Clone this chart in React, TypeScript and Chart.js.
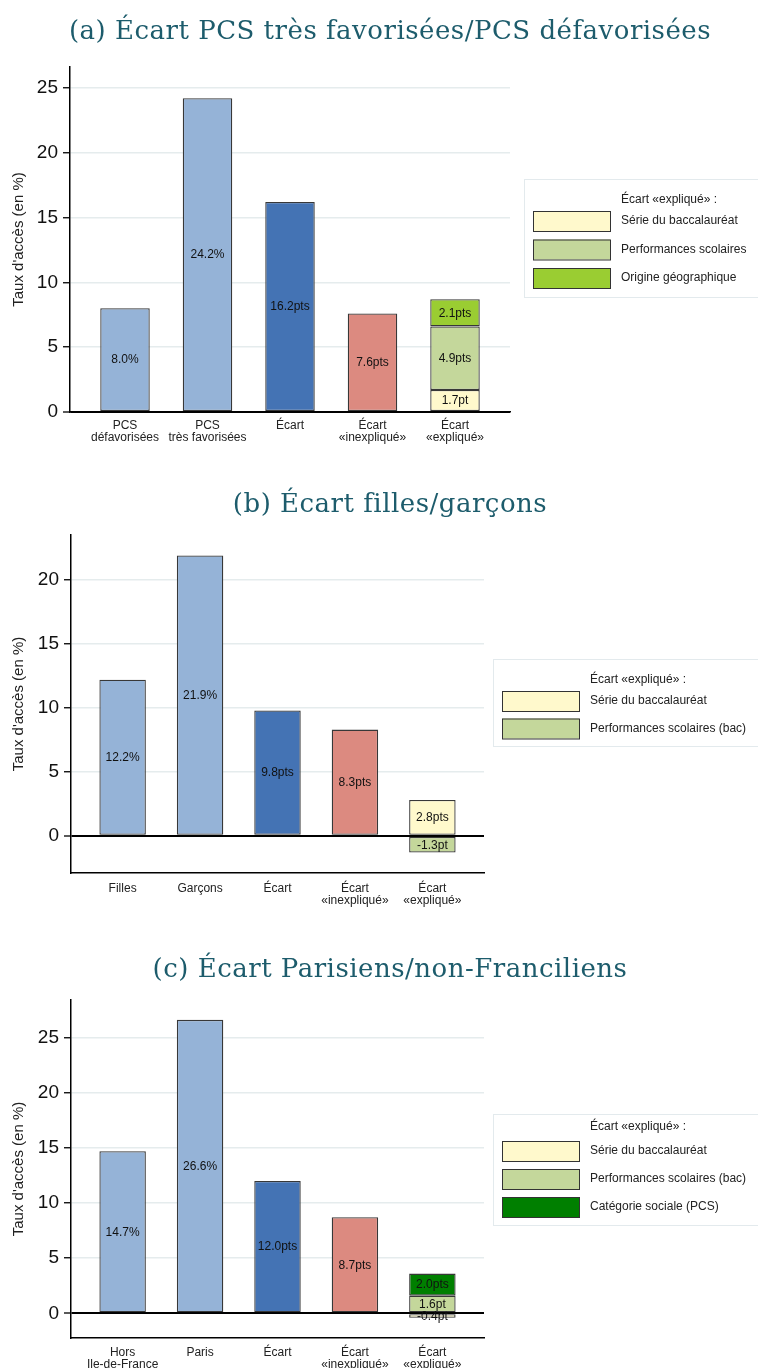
import React, { useEffect, useRef } from 'react';
import { Chart, registerables } from 'chart.js';
Chart.register(...registerables);

const SANS = '"Liberation Sans", Arial, Helvetica, sans-serif';
const SERIF = '"DejaVu Serif", Georgia, serif';
const TITLE_COLOR = '#1d5c6c';

const LIGHT_BLUE = '#95b3d7';
const DARK_BLUE = '#4473b4';
const SALMON = '#dc8a80';
const CREAM = '#fff9cc';
const LIGHT_GREEN = '#c4d79b';
const LIME = '#9acd32';
const DARK_GREEN = '#007f00';

const Y_TITLE = "Taux d'accès (en %)";
const LEGEND_TITLE = 'Écart «expliqué» :';
const MAIN_UNITS = ['%', '%', 'pts', 'pts'];
const MAIN_COLORS = [LIGHT_BLUE, LIGHT_BLUE, DARK_BLUE, SALMON];

// ---------- Panel (a)
const titleA = '(a) Écart PCS très favorisées/PCS défavorisées';
const catsA = [['PCS', 'défavorisées'], ['PCS', 'très favorisées'], 'Écart', ['Écart', '«inexpliqué»'], ['Écart', '«expliqué»']];
const mainA = [8.0, 24.2, 16.2, 7.6];
const segNamesA = ['Série du baccalauréat', 'Performances scolaires', 'Origine géographique'];
const segValuesA = [1.7, 4.9, 2.1];
const segColorsA = [CREAM, LIGHT_GREEN, LIME];
const yTicksA = [0, 5, 10, 15, 20, 25];

// ---------- Panel (b)
const titleB = '(b) Écart filles/garçons';
const catsB = ['Filles', 'Garçons', 'Écart', ['Écart', '«inexpliqué»'], ['Écart', '«expliqué»']];
const mainB = [12.2, 21.9, 9.8, 8.3];
const segNamesB = ['Série du baccalauréat', 'Performances scolaires (bac)'];
const segValuesB = [2.8, -1.3];
const segColorsB = [CREAM, LIGHT_GREEN];
const yTicksB = [0, 5, 10, 15, 20];

// ---------- Panel (c)
const titleC = '(c) Écart Parisiens/non-Franciliens';
const catsC = [['Hors', 'Ile-de-France'], 'Paris', 'Écart', ['Écart', '«inexpliqué»'], ['Écart', '«expliqué»']];
const mainC = [14.7, 26.6, 12.0, 8.7];
const segNamesC = ['Série du baccalauréat', 'Performances scolaires (bac)', 'Catégorie sociale (PCS)'];
const segValuesC = [-0.4, 1.6, 2.0];
const segColorsC = [CREAM, LIGHT_GREEN, DARK_GREEN];
const yTicksC = [0, 5, 10, 15, 20, 25];

const W = 758;

const panels = [
  {
    key: 'a', top: 0, height: 455, title: titleA, titleY: 38.5, cats: catsA, main: mainA,
    segNames: segNamesA, segValues: segValuesA, segColors: segColorsA, yTicks: yTicksA,
    yMin: 0, yMax: 26.6, plotLeft: 70, plotRight: 510, plotTop: 67, xAxisH: 43, xPad: 8,
    legend: { left: 524, top: 179, height: 118, titleOff: 21, row1Off: 42, rowGap: 28.5 },
  },
  {
    key: 'b', top: 455, height: 465, title: titleB, titleY: 56.7, cats: catsB, main: mainB,
    segNames: segNamesB, segValues: segValuesB, segColors: segColorsB, yTicks: yTicksB,
    yMin: -2.9, yMax: 23.5, plotLeft: 71, plotRight: 484, plotTop: 80, xAxisH: 47, xPad: 10,
    legend: { left: 493, top: 204, height: 87, titleOff: 21, row1Off: 42, rowGap: 27.5 },
  },
  {
    key: 'c', top: 920, height: 448, title: titleC, titleY: 57.3, cats: catsC, main: mainC,
    segNames: segNamesC, segValues: segValuesC, segColors: segColorsC, yTicks: yTicksC,
    yMin: -2.24, yMax: 28.4, plotLeft: 71, plotRight: 484, plotTop: 80, xAxisH: 30, xPad: 9,
    legend: { left: 493, top: 194, height: 111, titleOff: 13, row1Off: 37, rowGap: 28 },
  },
];

const panelTitle = {
  id: 'panelTitle',
  afterDraw(chart: any, _args: any, opts: any) {
    const ctx = chart.ctx;
    ctx.save();
    ctx.font = '26px ' + SERIF;
    try {
      (ctx as any).letterSpacing = '0.5px';
    } catch (e) {}
    ctx.fillStyle = TITLE_COLOR;
    ctx.textAlign = 'center';
    ctx.textBaseline = 'alphabetic';
    ctx.fillText(opts.text, 390, opts.y);
    ctx.restore();
  },
};

const valueLabels = {
  id: 'valueLabels',
  afterDatasetsDraw(chart: any) {
    const ctx = chart.ctx;
    ctx.save();
    ctx.font = '12px ' + SANS;
    ctx.fillStyle = '#111';
    ctx.textAlign = 'center';
    ctx.textBaseline = 'middle';
    chart.data.datasets.forEach((ds: any, i: number) => {
      const meta = chart.getDatasetMeta(i);
      meta.data.forEach((el: any, j: number) => {
        const txt = ds.valueText && ds.valueText[j];
        if (!txt) return;
        const p = el.getProps(['x', 'y', 'base'], true);
        ctx.fillText(txt, p.x, (p.y + p.base) / 2 + 0.5);
      });
    });
    ctx.restore();
  },
};

const segLegend = {
  id: 'segLegend',
  afterDraw(chart: any, _args: any, opts: any) {
    const ctx = chart.ctx;
    const { left, top, height, titleOff, row1Off, rowGap } = opts;
    ctx.save();
    ctx.fillStyle = '#fff';
    ctx.fillRect(left, top, chart.width - left + 10, height);
    ctx.strokeStyle = '#e3eaed';
    ctx.lineWidth = 1;
    ctx.strokeRect(left + 0.5, top + 0.5, chart.width - left + 10, height);
    ctx.font = '12px ' + SANS;
    ctx.fillStyle = '#222';
    ctx.textAlign = 'left';
    ctx.textBaseline = 'middle';
    ctx.fillText(LEGEND_TITLE, left + 97, top + titleOff);
    chart.data.datasets.forEach((ds: any, i: number) => {
      if (i === 0) return;
      const y = top + row1Off + (i - 1) * rowGap;
      ctx.fillStyle = ds.backgroundColor;
      ctx.fillRect(left + 9, y - 10, 77, 20);
      ctx.strokeStyle = '#333';
      ctx.lineWidth = 1;
      ctx.strokeRect(left + 9.5, y - 9.5, 77, 20);
      ctx.fillStyle = '#222';
      ctx.fillText(ds.label, left + 97, y);
    });
    ctx.restore();
  },
};

function fmtSeg(v: number) {
  return v.toFixed(1) + (Math.abs(v) < 2 ? 'pt' : 'pts');
}

function buildConfig(p: any): any {
  const datasets: any[] = [
    {
      label: 'main',
      data: p.main.map((v: number, i: number) => ({ x: i + 1, y: v })),
      backgroundColor: MAIN_COLORS,
      valueText: p.main.map((v: number, i: number) => v.toFixed(1) + MAIN_UNITS[i]),
    },
  ];
  p.segValues.forEach((v: number, i: number) => {
    datasets.push({
      label: p.segNames[i],
      data: [{ x: 5, y: v }],
      backgroundColor: p.segColors[i],
      valueText: [fmtSeg(v)],
    });
  });
  datasets.forEach((d) => {
    d.borderColor = '#383838';
    d.borderWidth = 1.3;
    d.borderSkipped = false;
    d.barPercentage = 0.6;
    d.categoryPercentage = 1;
  });
  return {
    type: 'bar',
    data: { datasets },
    plugins: [valueLabels, segLegend, panelTitle],
    options: {
      animation: false,
      responsive: false,
      devicePixelRatio: 1,
      events: [],
      layout: { padding: { left: 0, right: W - p.plotRight, top: p.plotTop, bottom: 0 } },
      plugins: {
        legend: { display: false },
        tooltip: { enabled: false },
        title: { display: false },
        panelTitle: { text: p.title, y: p.titleY },
        segLegend: p.legend,
      },
      scales: {
        x: {
          type: 'linear',
          min: 1 / 3,
          max: 5 + 2 / 3,
          offset: false,
          stacked: true,
          grid: { display: false, drawTicks: false, offset: false },
          border: { display: true, color: '#000', width: 1.5 },
          afterBuildTicks: (axis: any) => {
            axis.ticks = [1, 2, 3, 4, 5].map((v) => ({ value: v }));
          },
          ticks: {
            autoSkip: false,
            maxRotation: 0,
            minRotation: 0,
            padding: p.xPad,
            color: '#222',
            font: { family: SANS, size: 12, lineHeight: 1 },
            callback: (v: any) => p.cats[Math.round(v) - 1],
          },
          afterFit: (s: any) => {
            s.height = p.xAxisH;
          },
        },
        y: {
          min: p.yMin,
          max: p.yMax,
          stacked: true,
          afterBuildTicks: (axis: any) => {
            axis.ticks = p.yTicks.map((v: number) => ({ value: v }));
          },
          grid: {
            color: (c: any) => (c.tick && c.tick.value === 0 ? '#000' : '#e5eced'),
            lineWidth: (c: any) => (c.tick && c.tick.value === 0 ? 2 : 1.5),
            tickColor: '#000',
            tickLength: 7,
            tickWidth: 1.3,
          },
          border: { display: true, color: '#000', width: 1.5 },
          ticks: {
            padding: 5,
            color: '#111',
            font: { family: SANS, size: 19 },
          },
          title: {
            display: true,
            text: Y_TITLE,
            color: '#222',
            font: { family: SANS, size: 15, lineHeight: 1 },
            padding: { top: 11, bottom: 0 },
          },
          afterFit: (s: any) => {
            s.width = p.plotLeft;
          },
        },
      },
    },
  };
}

function Panel({ p }: { p: any }) {
  const ref = useRef<HTMLCanvasElement | null>(null);
  useEffect(() => {
    if (!ref.current) return;
    const chart = new Chart(ref.current, buildConfig(p));
    return () => chart.destroy();
  }, [p]);
  return (
    <div style={{ position: 'absolute', left: 0, top: p.top, width: W, height: p.height }}>
      <canvas ref={ref} width={W} height={p.height} style={{ width: W, height: p.height, display: 'block' }} />
    </div>
  );
}

export default function App() {
  return (
    <div style={{ position: 'absolute', left: 0, top: 0, width: W, height: 1368, background: '#fff', overflow: 'hidden' }}>
      {panels.map((p) => (
        <Panel key={p.key} p={p} />
      ))}
    </div>
  );
}
